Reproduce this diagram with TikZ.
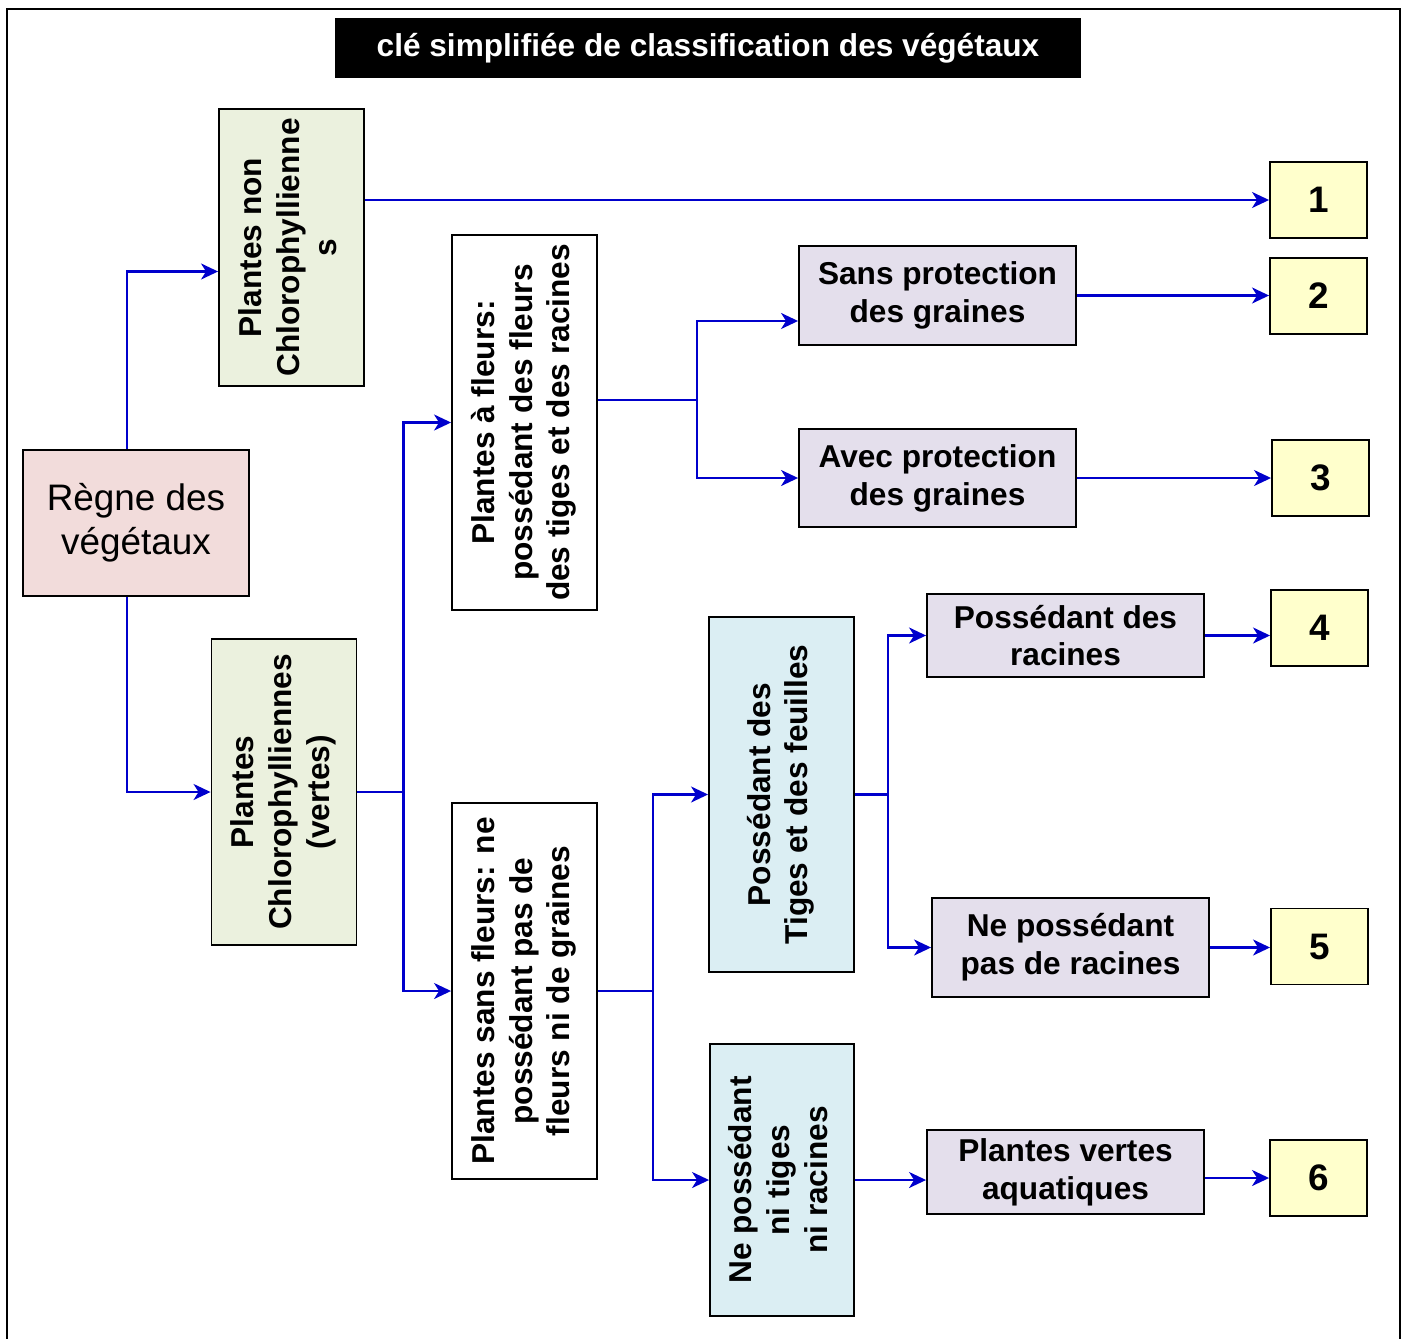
\documentclass[tikz,border=0pt]{standalone}
\usepackage{fontspec}
\setmainfont{Liberation Sans}
\usepackage{graphicx}
\usepackage{tikz}
\usetikzlibrary{arrows.meta}
\usetikzlibrary{positioning}

\definecolor{bleufl}{RGB}{0,0,204}
\definecolor{rose}{RGB}{242,220,219}
\definecolor{vertpale}{RGB}{235,241,222}
\definecolor{bleupale}{RGB}{219,238,243}
\definecolor{lavande}{RGB}{228,223,236}
\definecolor{jaunepale}{RGB}{255,255,204}

\newcommand{\vtext}[1]{\rotatebox{90}{\begin{tabular}{@{}c@{}}#1\end{tabular}}}

\begin{document}
\begin{tikzpicture}[x=0.02cm, y=-0.02cm,
    boite/.style={draw, line width=1.1pt, inner sep=0pt, align=center,
      font=\bfseries\fontsize{18}{21.5}\selectfont},
    tige/.style={boite, minimum width=2.9cm},
    vertb/.style={tige, fill=vertpale},
    bleub/.style={tige, fill=bleupale},
    blancb/.style={tige, fill=white},
    lavb/.style={boite, fill=lavande, minimum width=5.54cm},
    num/.style={boite, fill=jaunepale, minimum width=1.94cm, minimum height=1.52cm,
      font=\bfseries\fontsize{21}{25}\selectfont},
    fl/.style={draw=bleufl, line width=1.2pt,
      -{Stealth[length=0.34cm, width=0.32cm, inset=0.1cm]}}]
  \useasboundingbox (0,0) rectangle (1407,1339);
  \draw[line width=1.1pt] (7,1339) -- (7,9) -- (1400,9) -- (1400,1339);

  \node[fill=black, text=white, inner sep=0pt, minimum width=14.92cm, minimum height=1.2cm,
    font=\bfseries\fontsize{18}{21.5}\selectfont] (titre) at (708,48)
    {clé simplifiée de classification des végétaux};

  \node[boite, fill=rose, minimum width=4.52cm, minimum height=2.92cm,
    font=\fontsize{21}{25}\selectfont] (regne) at (136,523) {Règne des\\végétaux};

  \node[vertb, minimum height=5.54cm] (pnc) at (291.5,247.5)
    {\vtext{Plantes non\\Chlorophyllienne\\s}};
  \node[vertb, minimum height=6.12cm] (pc) at (284,792)
    {\vtext{Plantes\\Chlorophylliennes\\(vertes)}};

  \node[blancb, minimum height=7.5cm] (paf) at (524.5,422.5)
    {\vtext{Plantes à fleurs:\\possédant des fleurs\\des tiges et des racines}};
  \node[blancb, minimum height=7.52cm] (psf) at (524.5,991)
    {\vtext{Plantes sans fleurs: ne\\possédant pas de\\fleurs ni de graines}};

  \node[bleub, minimum height=7.1cm] (ptf) at (781.5,794.5)
    {\vtext{Possédant des\\Tiges et des feuilles}};
  \node[bleub, minimum width=2.88cm, minimum height=5.44cm] (npt) at (782,1180)
    {\vtext{Ne possédant\\ni tiges\\ni racines}};

  \node[lavb, minimum height=1.98cm] (spg) at (937.5,295.5) {Sans protection\\des graines};
  \node[lavb, minimum height=1.96cm] (apg) at (937.5,478) {Avec protection\\des graines};
  \node[lavb, minimum height=1.66cm] (pdr) at (1065.5,635.5) {Possédant des\\racines};
  \node[lavb, minimum height=1.98cm] (npr) at (1070.5,947.5) {Ne possédant\\pas de racines};
  \node[lavb, minimum height=1.68cm] (pva) at (1065.5,1172) {Plantes vertes\\aquatiques};

  \node[num] (n1) at (1318.5,200) {1};
  \node[num] (n2) at (1318.5,296) {2};
  \node[num] (n3) at (1320.5,478) {3};
  \node[num] (n4) at (1319.5,628) {4};
  \node[num] (n5) at (1319.5,946.5) {5};
  \node[num] (n6) at (1318.5,1178) {6};

  \draw[fl] ([xshift=-0.18cm]regne.north) |- ([yshift=-0.48cm]pnc.west);
  \draw[fl] ([xshift=-0.18cm]regne.south) |- (pc.west);
  \draw[fl] (pnc.east |- n1.west) -- (n1.west);

  \draw[fl] (pc.east) -- ++(46,0) |- (paf.west);
  \draw[fl] (pc.east) -- ++(46,0) |- (psf.west);

  \draw[fl] ([yshift=0.45cm]paf.east) -- ++(99,0) |- ([yshift=-0.51cm]spg.west);
  \draw[fl] ([yshift=0.45cm]paf.east) -- ++(99,0) |- (apg.west);
  \draw[fl] (spg.east) -- (spg.east -| n2.west);
  \draw[fl] (apg.east) -- (apg.east -| n3.west);

  \draw[fl] (psf.east) -- ++(55,0) |- (ptf.west);
  \draw[fl] (psf.east) -- ++(55,0) |- (npt.west);

  \draw[fl] (ptf.east) -- ++(33,0) |- (pdr.west);
  \draw[fl] (ptf.east) -- ++(33,0) |- (npr.west);
  \draw[fl] (pdr.east) -- (pdr.east -| n4.west);
  \draw[fl] (npr.east) -- (npr.east -| n5.west);

  \draw[fl] (npt.east) -- (npt.east -| pva.west);
  \draw[fl] (n6.west -| pva.east) -- (n6.west);
\end{tikzpicture}
\end{document}
